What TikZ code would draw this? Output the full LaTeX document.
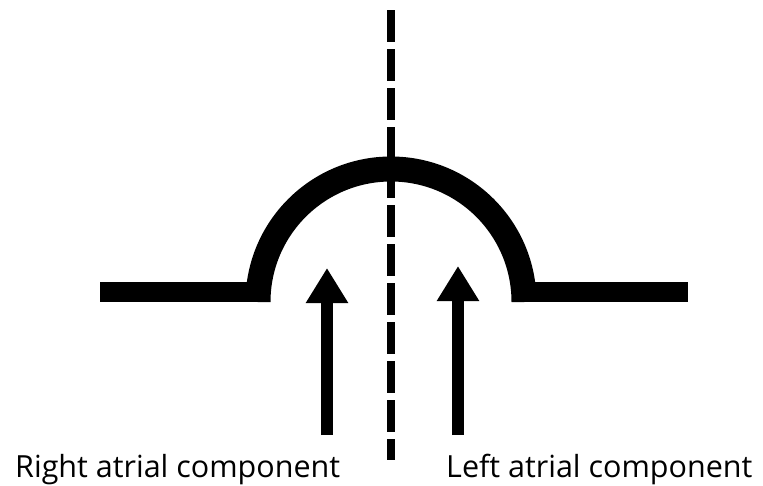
\documentclass[tikz,border=0pt]{standalone}
\usepackage{fontspec}
\setmainfont{Open Sans}
\usetikzlibrary{arrows.meta}
\begin{document}
\begin{tikzpicture}[x=1pt,y=-1pt,
  bar/.style={fill=black},
  archline/.style={line width=25pt,draw=black},
  axis/.style={line width=8pt,draw=black,dash pattern=on 32pt off 7pt},
  flow/.style={line width=12pt,draw=black,-{Triangle[width=40pt,length=35pt]}},
  lbl/.style={font=\fontsize{30.5}{36}\selectfont,inner sep=0pt,anchor=base west}]
\useasboundingbox (0,0) rectangle (763,485);
% bars
\fill[bar] (100,282) rectangle (270,302);
\fill[bar] (512,282) rectangle (688,302);
% arch
\draw[archline] (258,302) arc[start angle=180,end angle=360,radius=133];
% dashed axis
\coordinate (axtop) at (391,10);
\coordinate (axbot) at (391,460);
\draw[axis] (axtop) -- (axbot);
% arrows
\coordinate (rbot) at (327,435);
\coordinate (rtip) at (327,268);
\coordinate (lbot) at (458,435);
\coordinate (ltip) at (458,266);
\draw[flow] (rbot) -- (rtip);
\draw[flow] (lbot) -- (ltip);
% labels
\node[lbl] (rlab) at (15,477) {Right atrial component};
\node[lbl] (llab) at (446,477) {Left atrial component};
\end{tikzpicture}
\end{document}
